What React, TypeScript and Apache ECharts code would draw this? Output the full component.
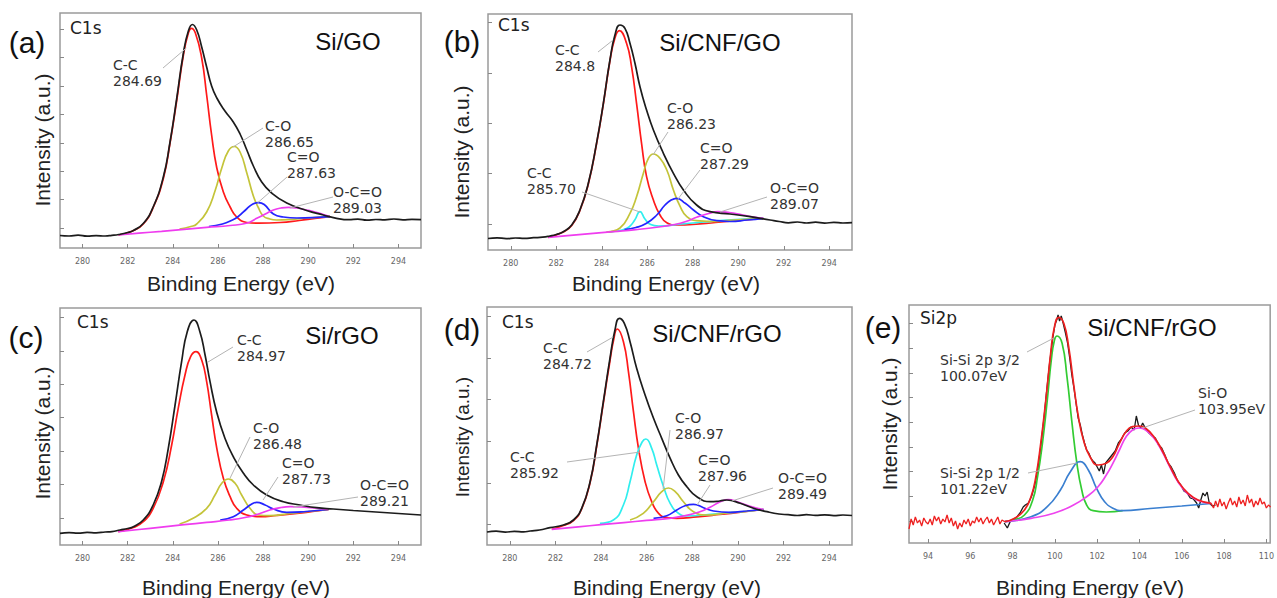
import React, { useEffect, useRef } from "react";
import * as echarts from "echarts";

// ---------- tick values ----------
const xTicksC1s = [280, 282, 284, 286, 288, 290, 292, 294];
const xTicksSi2p = [94, 96, 98, 100, 102, 104, 106, 108, 110];
const yTicksA = [20, 49, 77, 105, 134, 162, 191, 219];
const yTicksB = [26, 77, 127, 177, 228];
const yTicksC = [27, 61, 94, 128, 161, 194, 228];
const yTicksD = [21, 62, 104, 146, 187, 229];
const yTicksE = [22, 47, 72, 96, 121, 146, 170, 195, 220];

// ---------- (a) Si/GO C1s ----------
const blackA = [[279.0,12.5],[279.4,12],[279.8,12.8],[280.2,11.8],[280.6,12.4],[281.0,12],[281.3,12.6],[281.6,13.5],[282.0,15.5],[282.25,17.5],[282.69,24.5],[283.13,41],[283.58,71],[283.87,105],[284.17,149],[284.47,195],[284.69,217],[284.87,223.5],[285.06,218],[285.28,201],[285.5,181],[285.72,162],[285.95,150],[286.31,137],[286.68,126],[286.98,114],[287.28,98],[287.57,82],[287.94,66],[288.38,55],[289.05,45],[289.93,37.5],[290.67,33],[291.26,29.7],[291.8,28.3],[292.2,28.8],[292.6,27.8],[293.0,28.5],[293.4,28.1],[293.8,29],[294.2,28.2],[294.6,28.7],[295.0,28.4]];
const redA = [[281.59,13],[282.25,17.3],[282.69,24],[283.13,40.5],[283.58,69.5],[283.87,104],[284.17,147],[284.47,193],[284.69,215],[284.82,219.7],[285.0,215],[285.28,190],[285.5,153],[285.72,113],[285.95,80],[286.24,56],[286.54,41],[286.83,31],[287.28,25.5],[287.8,24.8],[288.75,25.5],[289.6,27.5],[290.3,29.5],[290.97,31.3]];
const yellowA = [[284.3,19],[284.8,21.5],[285.06,24],[285.5,36],[285.87,57],[286.17,80],[286.46,97],[286.72,101.5],[286.98,96],[287.28,75],[287.57,52],[287.8,40],[288.01,32],[288.3,29],[288.6,28],[289.2,28.5],[290.0,30],[290.97,31.3]];
const blueA = [[285.6,21.5],[286.2,24],[286.6,27.5],[286.9,31.5],[287.27,39],[287.55,44],[287.79,45.3],[288.05,43.5],[288.46,34],[288.9,31],[289.5,30],[290.2,30.3],[290.97,31.3]];
const magentaA = [[281.59,13],[282.5,14.8],[283.5,16.7],[284.5,18.7],[285.5,20.6],[286.54,22.5],[287.3,25],[287.72,29.7],[288.1,34],[288.46,38],[288.8,40],[289.12,40.7],[289.5,40],[289.93,38],[290.3,36],[290.67,33.5],[290.97,31.3]];

// ---------- (b) Si/CNF/GO C1s ----------
const blackB = [[279.0,11.5],[279.4,12.2],[279.8,11.4],[280.2,12],[280.6,11.6],[281.0,12.3],[281.4,12.8],[281.72,14],[282.0,15.5],[282.31,18.3],[282.68,25],[283.04,40],[283.41,66.7],[283.77,106.7],[284.07,146.7],[284.36,190],[284.58,215],[284.8,225],[285.02,221.7],[285.24,206.7],[285.46,186.7],[285.68,163.3],[285.97,140],[286.27,120],[286.71,96.7],[287.15,76.7],[287.59,60],[288.17,45],[288.76,38.3],[289.64,36],[290.52,33.3],[291.4,30],[291.8,28.5],[292.2,27.2],[292.6,28],[293.0,27],[293.4,27.8],[293.8,26.9],[294.2,27.6],[294.6,27],[295.0,27.4]];
const redB = [[281.65,12.7],[282.31,18],[282.68,24.5],[283.04,39.5],[283.41,66],[283.77,106],[284.07,146],[284.36,189],[284.58,212],[284.77,219.3],[285.09,206.7],[285.31,183.3],[285.53,146.7],[285.75,106.7],[285.97,73.3],[286.27,50],[286.56,35],[286.86,27.3],[287.3,25],[288.0,25.5],[289.0,27.5],[290.0,29.5],[291.1,31.7]];
const cyanB = [[284.3,17.9],[284.9,20],[285.2,23],[285.45,30],[285.68,38.3],[285.9,31],[286.15,25.5],[286.5,24],[287.5,26],[288.5,28],[289.5,30],[291.1,31.7]];
const yellowB = [[284.2,18],[284.8,22],[285.24,36.7],[285.53,53.3],[285.83,76.7],[286.05,91.7],[286.27,96],[286.56,91.7],[286.86,80],[287.15,60],[287.45,43.3],[287.74,33.3],[288.17,29.3],[288.8,28.5],[289.8,30],[291.1,31.7]];
const blueB = [[285.0,20.5],[285.5,22.5],[285.97,26.7],[286.42,35],[286.78,45],[287.05,50],[287.29,51.7],[287.67,46.7],[288.03,40],[288.47,33.3],[289.06,29.3],[289.64,28.5],[290.4,30],[291.1,31.7]];
const magentaB = [[281.65,12.7],[282.5,14.4],[283.5,16.4],[284.5,18.4],[285.5,20.4],[286.5,23],[287.2,25.5],[287.7,28.5],[288.2,33],[288.7,36.5],[289.1,38.3],[289.6,37.5],[290.2,35],[290.7,33],[291.1,31.7]];

// ---------- (c) Si/rGO C1s ----------
const blackC = [[279.0,11.7],[279.4,12.4],[279.8,11.8],[280.2,12.6],[280.6,12.2],[281.0,13],[281.3,13.4],[281.66,15],[282.0,16.5],[282.25,18.3],[282.69,25],[283.13,40],[283.5,63.3],[283.8,96.7],[284.1,140],[284.39,183.3],[284.64,213.3],[284.94,225],[285.2,213.3],[285.43,190],[285.65,163.3],[285.94,133.3],[286.31,106.7],[286.68,88.3],[287.13,71.7],[287.57,60],[288.16,50],[288.9,43.3],[289.64,40],[290.37,37.3],[291.11,36],[292.0,34.5],[293.0,33],[294.0,31.5],[295.0,30]];
const redC = [[281.58,13.3],[282.25,17.5],[282.69,23.3],[283.13,36.7],[283.58,63.3],[283.95,100],[284.24,136.7],[284.54,170],[284.79,188.3],[285.03,193.3],[285.28,185],[285.5,163.3],[285.72,130],[285.95,96.7],[286.24,66.7],[286.54,48.3],[286.83,36.7],[287.28,30],[287.87,28.3],[288.6,29.5],[289.5,31.5],[290.2,33.5],[290.9,35.5]];
const yellowC = [[284.3,21],[284.9,26.7],[285.5,36.7],[285.87,50],[286.17,61.7],[286.46,66],[286.76,61.7],[287.05,50],[287.42,36.7],[287.79,30],[288.3,29.3],[289.2,31.5],[290.0,33.5],[290.9,35.5]];
const blueC = [[286.1,25],[286.68,28.3],[287.13,35],[287.5,41],[287.72,42.7],[288.09,40],[288.46,36],[289.05,32.7],[289.9,33.5],[290.9,35.5]];
const magentaC = [[281.58,13.3],[282.5,15.5],[283.5,17.9],[284.5,20.3],[285.5,22.6],[286.5,25],[287.2,27.5],[287.8,31],[288.3,35],[288.8,37.5],[289.2,38.3],[289.7,38],[290.3,37],[290.9,35.5]];

// ---------- (d) Si/CNF/rGO C1s ----------
const blackD = [[279.0,13],[279.4,13.8],[279.8,12.9],[280.2,13.6],[280.6,13.1],[280.89,14],[281.3,15],[281.76,17.3],[282.35,20],[282.79,25],[283.15,36.7],[283.52,63.3],[283.81,100],[284.1,143.3],[284.39,186.7],[284.61,215],[284.8,226.7],[285.02,221.7],[285.27,203.3],[285.56,176.7],[285.93,150],[286.3,126.7],[286.66,106.7],[287.03,86.7],[287.39,70],[287.76,58.3],[288.2,48.3],[288.78,43.3],[289.2,44],[289.51,45],[290.1,41.7],[290.68,36.7],[291.27,33.3],[291.8,31],[292.2,30.3],[292.6,29.5],[293.0,30.4],[293.4,29.6],[293.8,30.2],[294.2,29.4],[294.6,30],[295.0,29.5]];
const redD = [[281.84,15.7],[282.35,19.5],[282.79,24.5],[283.15,36],[283.52,62.5],[283.81,99],[284.1,142],[284.39,184],[284.55,205],[284.71,216],[284.98,203.3],[285.2,173.3],[285.42,133.3],[285.64,96.7],[285.93,63.3],[286.22,43.3],[286.52,31.7],[286.88,27.3],[287.32,26.7],[288.2,28.2],[289.2,30.5],[290.2,33],[291.12,35.5]];
const cyanD = [[283.95,21.7],[284.54,25],[284.98,40],[285.27,63.3],[285.56,90],[285.8,103],[285.96,106],[286.22,96.7],[286.44,80],[286.74,58.3],[287.03,41.7],[287.39,31.7],[287.76,29],[288.5,30],[289.5,32],[290.3,33.5],[291.12,35.5]];
const yellowD = [[285.27,25],[285.85,31.7],[286.3,43.3],[286.66,53.3],[286.95,57],[287.25,53.3],[287.61,43.3],[288.05,33.3],[288.63,30],[289.5,32],[290.3,33.5],[291.12,35.5]];
const blueD = [[286.3,26.7],[286.88,29.3],[287.32,35],[287.68,39.3],[288.05,40.7],[288.49,37.3],[288.93,34],[289.66,32.7],[290.39,34],[291.12,35.5]];
const magentaD = [[281.84,15.7],[283.0,18.2],[284.0,20.3],[285.0,22.4],[286.0,24.6],[287.0,26.7],[287.6,29],[288.3,33],[288.8,38],[289.2,43],[289.58,45.5],[290.0,43],[290.5,39],[291.12,35.5]];

// ---------- (e) Si/CNF/rGO Si2p ----------
const rawNoiseLeftE = [[93.1,14],[93.2,24],[93.3,18],[93.4,26],[93.5,20],[93.6,23],[93.7,17],[93.8,25],[93.9,21],[94.0,19],[94.1,24],[94.2,18],[94.3,27],[94.4,22],[94.5,26],[94.6,19],[94.7,24],[94.8,21],[94.9,28],[95.0,20],[95.1,25],[95.2,17],[95.3,22],[95.4,14],[95.5,20],[95.6,16],[95.7,23],[95.8,19],[95.9,24],[96.0,17],[96.1,22],[96.2,20],[96.3,26],[96.4,21],[96.5,25],[96.6,19],[96.7,23],[96.8,26],[96.9,20],[97.0,24],[97.1,18],[97.2,22],[97.3,26],[97.4,19],[97.5,23],[97.63,21.3]];
const rawNoiseRightE = [[107.39,39.7],[107.5,35],[107.6,42],[107.7,36],[107.8,44],[107.9,37],[108.0,41],[108.1,34],[108.2,40],[108.3,45],[108.4,38],[108.5,42],[108.6,36],[108.7,46],[108.8,39],[108.9,43],[109.0,37],[109.1,48],[109.2,40],[109.3,44],[109.4,36],[109.5,42],[109.6,38],[109.7,45],[109.8,39],[109.9,41],[110.0,35],[110.1,38],[110.2,36]];
const rawDataE = [[97.6,20],[97.75,15],[97.9,22],[98.05,24],[98.2,26],[98.35,30],[98.5,36],[98.6,38],[98.75,40],[98.9,47],[99.05,58],[99.2,75],[99.35,100],[99.5,128],[99.6,150],[99.75,180],[99.9,205],[100.0,218],[100.1,224],[100.15,228],[100.22,222],[100.3,227],[100.4,219],[100.5,210],[100.6,200],[100.7,185],[100.8,168],[100.9,155],[101.0,140],[101.1,125],[101.2,118],[101.3,108],[101.4,100],[101.5,93],[101.6,90],[101.7,85],[101.8,82],[101.9,80],[102.0,76],[102.1,72],[102.2,78],[102.3,69],[102.4,80],[102.55,84],[102.7,88],[102.85,92],[103.0,100],[103.15,104],[103.3,110],[103.45,112],[103.6,116],[103.75,113],[103.85,127],[103.95,118],[104.05,115],[104.15,120],[104.3,114],[104.45,110],[104.6,107],[104.75,105],[104.9,98],[105.05,95],[105.2,88],[105.35,80],[105.5,76],[105.65,70],[105.8,62],[105.95,58],[106.1,52],[106.25,50],[106.4,45],[106.55,44],[106.7,40],[106.8,35],[106.9,43],[107.0,50],[107.1,47],[107.2,51],[107.3,40],[107.45,37],[107.6,38]];
const envelopeE = [[97.63,21.3],[98.1,24.7],[98.56,33],[98.87,46.3],[99.1,66.3],[99.33,99.7],[99.57,143],[99.8,189.7],[99.98,216.3],[100.18,225.7],[100.42,219.7],[100.65,196.3],[100.88,159.7],[101.11,126.3],[101.35,103],[101.66,86.3],[102.04,78],[102.43,79.7],[102.74,86.3],[103.05,99.7],[103.36,111.3],[103.67,116.3],[103.98,117],[104.29,114.7],[104.68,106.3],[105.06,93],[105.45,76.3],[105.84,61.3],[106.3,49.7],[106.77,43],[107.39,39.7]];
const greenE = [[97.63,21.3],[98.1,23.5],[98.56,28],[98.95,43],[99.18,66.3],[99.41,99.7],[99.64,143],[99.83,183],[99.98,203],[100.1,207],[100.34,199.7],[100.57,166.3],[100.81,119.7],[101.04,79.7],[101.27,53],[101.5,38],[101.81,32.3],[102.43,31],[103.2,32.3]];
const blueE = [[97.63,21.3],[98.87,26.3],[99.64,36.3],[100.26,53],[100.73,71.3],[101.2,81.3],[101.58,73],[101.97,54.7],[102.35,41.3],[102.74,34.7],[103.2,32.3],[104.5,34.5],[106.0,37],[107.39,39.5]];
const magentaE = [[97.63,21.3],[98.87,24.7],[99.95,29.7],[100.88,38],[101.5,46.3],[102.04,56.3],[102.43,68],[102.74,79.7],[103.05,93],[103.36,106],[103.67,113],[103.98,115],[104.29,113],[104.68,105],[105.06,92],[105.45,75.5],[105.84,60.5],[106.3,49],[106.77,42.5],[107.39,39.5]];

// ---------- text ----------
const panelLetters = ["(a)", "(b)", "(c)", "(d)", "(e)"];
const regionLabels = ["C1s", "C1s", "C1s", "C1s", "Si2p"];
const sampleNames = ["Si/GO", "Si/CNF/GO", "Si/rGO", "Si/CNF/rGO", "Si/CNF/rGO"];
const xTitle = "Binding Energy (eV)";
const yTitle = "Intensity (a.u.)";

// annotations: text, panel index, target peak (data), text anchor (px), leader start (px)
const annotations = [
  { p: 0, text: "C-C\n284.69", target: [284.6, 200], at: [113, 57], from: [163, 68] },
  { p: 0, text: "C-O\n286.65", target: [286.67, 101], at: [265, 118], from: [263, 128] },
  { p: 0, text: "C=O\n287.63", target: [287.75, 45], at: [287, 149], from: [287, 177] },
  { p: 0, text: "O-C=O\n289.03", target: [289.2, 40], at: [333, 184], from: [333, 197] },
  { p: 1, text: "C-C\n284.8", target: [284.5, 210], at: [555, 42], from: [598, 52] },
  { p: 1, text: "C-O\n286.23", target: [286.25, 95], at: [667, 100], from: [668, 132] },
  { p: 1, text: "C=O\n287.29", target: [287.35, 51], at: [700, 140], from: [700, 170] },
  { p: 1, text: "C-C\n285.70", target: [285.68, 38], at: [527, 165], from: [582, 192] },
  { p: 1, text: "O-C=O\n289.07", target: [289.2, 38], at: [770, 180], from: [767, 197] },
  { p: 2, text: "C-C\n284.97", target: [285.56, 183], at: [237, 332], from: [233, 347] },
  { p: 2, text: "C-O\n286.48", target: [286.54, 67], at: [253, 420], from: [250, 437] },
  { p: 2, text: "C=O\n287.73", target: [288.0, 45], at: [282, 455], from: [278, 477] },
  { p: 2, text: "O-C=O\n289.21", target: [289.33, 38], at: [360, 477], from: [358, 497] },
  { p: 3, text: "C-C\n284.72", target: [284.53, 208], at: [543, 340], from: [587, 352] },
  { p: 3, text: "C-C\n285.92", target: [285.71, 93], at: [510, 449], from: [567, 462] },
  { p: 3, text: "C-O\n286.97", target: [286.72, 56], at: [675, 410], from: [670, 430] },
  { p: 3, text: "C=O\n287.96", target: [288.21, 40], at: [698, 452], from: [710, 485] },
  { p: 3, text: "O-C=O\n289.49", target: [289.73, 44], at: [778, 470], from: [773, 488] },
  { p: 4, text: "Si-Si 2p 3/2\n100.07eV", target: [99.95, 205], at: [940, 352], from: [1027, 352] },
  { p: 4, text: "Si-Si 2p 1/2\n101.22eV", target: [101.03, 80], at: [940, 465], from: [1028, 473] },
  { p: 4, text: "Si-O\n103.95eV", target: [104.13, 115], at: [1198, 385], from: [1195, 410] },
];

// ---------- layout ----------
const C = { black: "#1c1c1c", red: "#ff1a1a", yellow: "#c4c43a", blue: "#2424ff", magenta: "#ef3cef", cyan: "#30eeee" };
const panels = [
  { grid: { left: 60, top: 13, width: 361, height: 235 }, x: [279, 295], xTicks: xTicksC1s, yMax: 235, yTicks: yTicksA,
    letter: [27, 42], region: [70, 28], name: [348, 41], xt: [241, 283], yt: [42, 140], ytSize: 21,
    series: [[redA, C.red], [yellowA, C.yellow], [blueA, C.blue], [magentaA, C.magenta], [blackA, C.black]] },
  { grid: { left: 488, top: 14, width: 364, height: 236 }, x: [279, 295], xTicks: xTicksC1s, yMax: 236, yTicks: yTicksB,
    letter: [462, 41], region: [498, 25], name: [720, 42], xt: [666, 283], yt: [461, 152], ytSize: 21,
    series: [[redB, C.red], [cyanB, C.cyan], [yellowB, C.yellow], [blueB, C.blue], [magentaB, C.magenta], [blackB, C.black]] },
  { grid: { left: 60, top: 308, width: 361, height: 237 }, x: [279, 295], xTicks: xTicksC1s, yMax: 237, yTicks: yTicksC,
    letter: [26, 337], region: [77, 322], name: [342, 335], xt: [236, 587], yt: [42, 433], ytSize: 21,
    series: [[redC, C.red], [yellowC, C.yellow], [blueC, C.blue], [magentaC, C.magenta], [blackC, C.black]] },
  { grid: { left: 487, top: 307, width: 365, height: 238 }, x: [279, 295], xTicks: xTicksC1s, yMax: 238, yTicks: yTicksD,
    letter: [462, 329], region: [502, 322], name: [717, 333], xt: [667, 587], yt: [462, 437], ytSize: 19,
    series: [[redD, C.red], [cyanD, C.cyan], [yellowD, C.yellow], [blueD, C.blue], [magentaD, C.magenta], [blackD, C.black]] },
  { grid: { left: 909, top: 305, width: 368, height: 238 }, x: [93.1, 110.18], xTicks: xTicksSi2p, yMax: 238, yTicks: yTicksE,
    letter: [883, 327], region: [920, 318], name: [1152, 327], xt: [1090, 587], yt: [889, 424], ytSize: 21,
    series: [[rawDataE, "#1a1a1a", "raw"], [greenE, "#33cc33"], [blueE, "#3a7fd0"], [magentaE, "#ee44ee"], [envelopeE, "#ee2020"], [rawNoiseLeftE, "#ee2020", "raw"], [rawNoiseRightE, "#ee2020", "raw"]] },
];

const SANS = "'Liberation Sans', Arial, sans-serif";
const DEJA = "'DejaVu Sans', sans-serif";

export default function App() {
  const ref = useRef<HTMLDivElement>(null);
  useEffect(() => {
    document.body.style.margin = "0";
    const chart = echarts.init(ref.current!, null, { renderer: "svg" });
    const grid: any[] = [], xAxis: any[] = [], yAxis: any[] = [], series: any[] = [];
    const firstSeries: number[] = [];
    panels.forEach((p, i) => {
      grid.push({ ...p.grid, show: true, borderColor: "#9a9a9a", borderWidth: 1.5, containLabel: false });
      xAxis.push({
        type: "value", gridIndex: i, min: p.x[0], max: p.x[1],
        axisLine: { show: false }, splitLine: { show: false },
        axisTick: { show: true, inside: true, length: 4, customValues: p.xTicks, lineStyle: { color: "#888" } },
        axisLabel: { show: true, customValues: p.xTicks, fontSize: 8, fontFamily: DEJA, color: "#666", margin: 9 },
      });
      yAxis.push({
        type: "value", gridIndex: i, min: 0, max: p.yMax,
        axisLine: { show: false }, splitLine: { show: false }, axisLabel: { show: false },
        axisTick: { show: true, inside: true, length: 4, customValues: p.yTicks, lineStyle: { color: "#888" } },
      });
      firstSeries.push(series.length);
      p.series.forEach((s: any) => {
        const raw = s[2] === "raw";
        series.push({
          type: "line", xAxisIndex: i, yAxisIndex: i, data: s[0], showSymbol: false, symbol: "none",
          smooth: raw ? false : 0.5,
          lineStyle: { color: s[1], width: raw ? 1.3 : 1.7 }, silent: true,
        });
      });
    });
    chart.setOption({ animation: false, backgroundColor: "#fff", grid, xAxis, yAxis, series });

    const g: any[] = [];
    panels.forEach((p, i) => {
      g.push({ type: "text", x: p.letter[0], y: p.letter[1], style: { text: panelLetters[i], font: `30px ${SANS}`, fill: "#111", align: "center", verticalAlign: "middle" } });
      g.push({ type: "text", x: p.region[0], y: p.region[1], style: { text: regionLabels[i], font: `17px ${DEJA}`, fill: "#222", align: "left", verticalAlign: "middle" } });
      g.push({ type: "text", x: p.name[0], y: p.name[1], style: { text: sampleNames[i], font: `24px ${SANS}`, fill: "#111", align: "center", verticalAlign: "middle" } });
      g.push({ type: "text", x: p.xt[0], y: p.xt[1], style: { text: xTitle, font: `21px ${SANS}`, fill: "#222", align: "center", verticalAlign: "middle" } });
      g.push({ type: "text", x: p.yt[0], y: p.yt[1], rotation: Math.PI / 2, style: { text: yTitle, font: `${p.ytSize}px ${SANS}`, fill: "#222", align: "center", verticalAlign: "middle" } });
    });
    annotations.forEach((a) => {
      const pt = chart.convertToPixel({ seriesIndex: firstSeries[a.p] }, a.target) as number[];
      g.push({ type: "line", shape: { x1: a.from[0], y1: a.from[1], x2: pt[0], y2: pt[1] }, style: { stroke: "#b4b4b4", lineWidth: 1 }, z: 10 });
      g.push({ type: "text", x: a.at[0], y: a.at[1], style: { text: a.text, font: `14px ${DEJA}`, fill: "#333", align: "left", verticalAlign: "top", lineHeight: 16 }, z: 11 });
    });
    chart.setOption({ graphic: g });
    return () => chart.dispose();
  }, []);
  return <div ref={ref} style={{ position: "fixed", left: 0, top: 0, width: 1277, height: 598 }} />;
}
